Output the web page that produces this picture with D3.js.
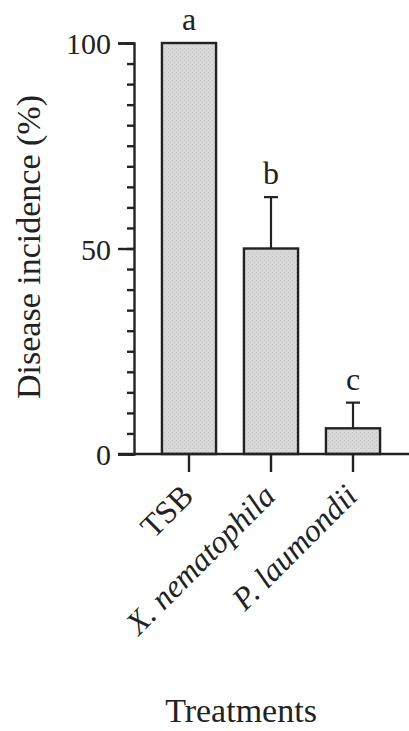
<!DOCTYPE html>
<html>
<head>
<meta charset="utf-8">
<script src="https://d3js.org/d3.v7.min.js"></script>
<style>
body { margin: 0; background: #fff; }
svg text { font-family: "Liberation Serif", "Times New Roman", serif; fill: #222; }
</style>
</head>
<body>
<svg width="409" height="731"></svg>
<script>
// data
var treatments = ["TSB", "X. nematophila", "P. laumondii"];
var incidence = [100, 50, 6.25];
var errors = [0, 12.5, 6.25];
var letters = ["a", "b", "c"];
var italicLabel = [false, true, true];
var yTicks = [0, 50, 100];

var svg = d3.select("svg");

var x = d3.scaleBand().domain(treatments).range([148, 394]).paddingInner(0.34).paddingOuter(0.17);
var y = d3.scaleLinear().domain([0, 100]).range([454, 43]);

// stipple texture for the bars
var defs = svg.append("defs");
var pat = defs.append("pattern").attr("id", "stip").attr("patternUnits", "userSpaceOnUse")
  .attr("width", 4).attr("height", 4);
pat.append("rect").attr("width", 4).attr("height", 4).attr("fill", "#d8d8d8");
pat.append("rect").attr("x", 0).attr("y", 0).attr("width", 1).attr("height", 1).attr("fill", "#c4c4c4");
pat.append("rect").attr("x", 2).attr("y", 2).attr("width", 1).attr("height", 1).attr("fill", "#c8c8c8");

// bars
svg.append("g").selectAll("rect").data(treatments).enter().append("rect")
  .attr("x", function(d) { return x(d); })
  .attr("y", function(d, i) { return y(incidence[i]); })
  .attr("width", x.bandwidth())
  .attr("height", function(d, i) { return y(0) - y(incidence[i]); })
  .attr("fill", "url(#stip)")
  .attr("stroke", "#222").attr("stroke-width", 2.4);

// error bars (upper only)
var eb = svg.append("g").attr("stroke", "#222").attr("stroke-width", 2.2);
treatments.forEach(function(d, i) {
  if (errors[i] <= 0) return;
  var cx = x(d) + x.bandwidth() / 2;
  eb.append("line").attr("x1", cx).attr("x2", cx)
    .attr("y1", y(incidence[i])).attr("y2", y(incidence[i] + errors[i]));
  eb.append("line").attr("x1", cx - 7).attr("x2", cx + 7)
    .attr("y1", y(incidence[i] + errors[i])).attr("y2", y(incidence[i] + errors[i]));
});

// significance letters
svg.append("g").selectAll("text").data(letters).enter().append("text")
  .attr("x", function(d, i) { return x(treatments[i]) + x.bandwidth() / 2; })
  .attr("y", function(d, i) { return y(incidence[i] + errors[i]) - 13; })
  .attr("text-anchor", "middle")
  .style("font-size", "32px")
  .text(function(d) { return d; });

// y axis: major ticks with labels, minor every 5
var yAxis = svg.append("g").attr("transform", "translate(134,0)")
  .call(d3.axisLeft(y).tickValues(yTicks).tickSize(16).tickPadding(7));
svg.append("g").attr("transform", "translate(134,0)")
  .call(d3.axisLeft(y).tickValues(d3.range(0, 101, 5)).tickSize(7).tickFormat(""))
  .call(function(g) { g.select(".domain").remove(); });
yAxis.selectAll("text").style("font-size", "30px").attr("dy", "0.36em");

// x axis line from left of y axis to the right edge
var xAxis = svg.append("g").attr("transform", "translate(0,454)")
  .call(d3.axisBottom(x).tickSize(18).tickFormat(""));
xAxis.select(".domain").attr("d", "M118,0H409");

svg.selectAll(".domain").attr("stroke", "#222").attr("stroke-width", 2.4);
svg.selectAll(".tick line").attr("stroke", "#222").attr("stroke-width", 2.4);

// rotated category labels
svg.append("g").selectAll("text").data(treatments).enter().append("text")
  .attr("transform", function(d) {
    return "translate(" + (x(d) + x.bandwidth() / 2 + 6) + ",498) rotate(-45)";
  })
  .attr("text-anchor", "end")
  .style("font-size", "32px")
  .style("font-style", function(d, i) { return italicLabel[i] ? "italic" : "normal"; })
  .text(function(d) { return d; });

// axis titles
svg.append("text")
  .attr("transform", "translate(40,247) rotate(-90)")
  .attr("text-anchor", "middle")
  .style("font-size", "34px")
  .text("Disease incidence (%)");

svg.append("text")
  .attr("x", 241).attr("y", 722)
  .attr("text-anchor", "middle")
  .style("font-size", "34px")
  .text("Treatments");
</script>
</body>
</html>
